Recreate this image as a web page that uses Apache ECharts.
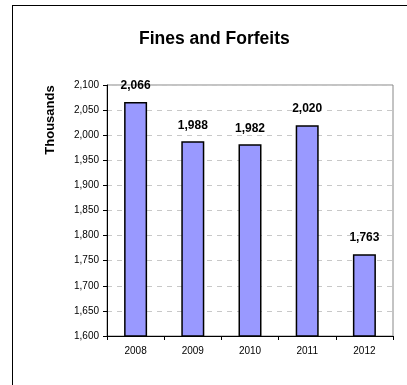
<!DOCTYPE html>
<html>
<head>
<meta charset="utf-8">
<script src="https://cdn.jsdelivr.net/npm/echarts@6/dist/echarts.min.js"></script>
<style>
  html, body { margin: 0; padding: 0; background: #fff; }
  #chart { width: 407px; height: 385px; }
</style>
</head>
<body>
<div id="chart"></div>
<script>
// Fines and forfeits revenue by fiscal year (in thousands)
const years = ['2008', '2009', '2010', '2011', '2012'];
const finesValues = [2066, 1988, 1982, 2020, 1763];

const FONT = '"Liberation Sans", Arial, sans-serif';
const fmt = v => Number(v).toLocaleString('en-US');

const chart = echarts.init(document.getElementById('chart'), null, { renderer: 'canvas' });
chart.setOption({
  animation: false,
  backgroundColor: '#fff',
  title: {
    text: 'Fines and Forfeits',
    left: 134,
    top: 25,
    textStyle: { fontFamily: FONT, fontSize: 17.5, fontWeight: 'bold', color: '#000' }
  },
  grid: {
    left: 107, right: 14, top: 85, bottom: 49,
    show: true, borderColor: '#888', borderWidth: 1, backgroundColor: 'transparent'
  },
  xAxis: {
    type: 'category',
    data: years,
    axisLine: { lineStyle: { color: '#000', width: 1 } },
    axisTick: { show: true, alignWithLabel: false, length: 4, lineStyle: { color: '#000' } },
    axisLabel: { fontFamily: FONT, fontSize: 10, color: '#000', margin: 10 }
  },
  yAxis: {
    type: 'value',
    min: 1600, max: 2100, interval: 50,
    axisLine: { show: true, lineStyle: { color: '#000', width: 1 } },
    axisTick: { show: true, length: 4, lineStyle: { color: '#000' } },
    axisLabel: { fontFamily: FONT, fontSize: 10, color: '#000', margin: 8, formatter: fmt },
    splitLine: { show: true, lineStyle: { color: '#c8c8c8', type: [5, 5], width: 1 } }
  },
  series: [{
    type: 'bar',
    data: finesValues,
    barWidth: 23,
    itemStyle: { color: '#9999ff', borderColor: '#000', borderWidth: 1.5 },
    label: {
      show: true, position: 'top', distance: 10,
      fontFamily: FONT, fontSize: 12, fontWeight: 'bold', color: '#000',
      formatter: p => fmt(p.value)
    }
  }],
  graphic: [
    { type: 'line', shape: { x1: 12.5, y1: 5, x2: 12.5, y2: 385 }, style: { stroke: '#000', lineWidth: 1 } },
    { type: 'line', shape: { x1: 12, y1: 5.5, x2: 407, y2: 5.5 }, style: { stroke: '#000', lineWidth: 1 } },
    {
      type: 'text', x: 50, y: 120, rotation: Math.PI / 2,
      style: {
        text: 'Thousands', fontFamily: FONT, fontSize: 13, fontWeight: 'bold',
        fill: '#000', textAlign: 'center', textVerticalAlign: 'middle'
      }
    }
  ]
});
</script>
</body>
</html>
